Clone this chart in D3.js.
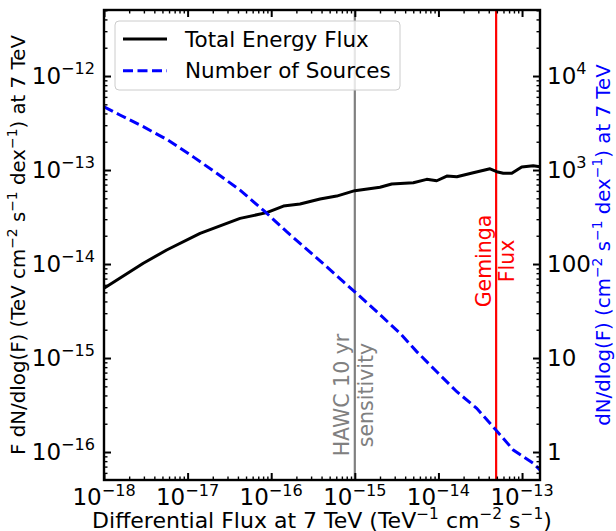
<!DOCTYPE html>
<html>
<head>
<meta charset="utf-8">
<title>Source flux distribution</title>
<script src="https://cdn.jsdelivr.net/npm/d3@7"></script>
<style>
  body { margin: 0; background: #fff; }
  text { font-family: "DejaVu Sans", sans-serif; }
</style>
</head>
<body>
<svg id="chart" width="616" height="531"></svg>
<script>
// total energy flux (left axis), F dN/dlog(F)
var energyX = [1.00e-18, 2.95e-18, 5.62e-18, 1.41e-17, 4.24e-17, 8.83e-17, 1.40e-16, 2.21e-16,
               3.84e-16, 6.07e-16, 1.00e-15, 2.00e-15, 2.76e-15, 5.01e-15, 7.24e-15, 9.55e-15,
               1.26e-14, 1.66e-14, 2.61e-14, 4.14e-14, 4.98e-14, 5.97e-14, 7.54e-14, 9.91e-14,
               1.36e-13, 1.64e-13];
var energyY = [5.51e-15, 1.02e-14, 1.41e-14, 2.12e-14, 3.06e-14, 3.52e-14, 4.14e-14, 4.35e-14,
               4.91e-14, 5.28e-14, 6.03e-14, 6.55e-14, 7.10e-14, 7.33e-14, 7.96e-14, 7.69e-14,
               8.63e-14, 8.49e-14, 9.35e-14, 1.03e-13, 9.59e-14, 9.23e-14, 9.23e-14, 1.08e-13,
               1.11e-13, 1.08e-13];

// number of sources (right axis), dN/dlog(F)
var sourcesX = [1.00e-18, 1.55e-18, 2.95e-18, 5.62e-18, 1.17e-17, 2.23e-17, 4.24e-17, 8.43e-17,
                1.53e-16, 3.84e-16, 7.28e-16, 1.00e-15, 1.83e-15, 3.48e-15, 5.50e-15, 9.55e-15,
                1.66e-14, 2.87e-14, 4.89e-14, 7.87e-14, 1.36e-13, 1.64e-13];
var sourcesN = [4710, 3850, 2890, 2120, 1380, 923, 612, 360, 221, 108, 64.9, 50.7, 31.1, 18.3,
                11.7, 7.14, 4.38, 2.92, 1.71, 1.05, 0.759, 0.644];

var hawcFlux = 1.0e-15;
var gemingaFlux = 4.9e-14;

var xTicks = [1e-18, 1e-17, 1e-16, 1e-15, 1e-14, 1e-13];
var xTickExp = ["\u221218", "\u221217", "\u221216", "\u221215", "\u221214", "\u221213"];
var leftTicks = [1e-16, 1e-15, 1e-14, 1e-13, 1e-12];
var leftTickExp = ["\u221216", "\u221215", "\u221214", "\u221213", "\u221212"];
var rightTicks = [1, 10, 100, 1e3, 1e4];
var rightTickLabels = [["1"], ["10"], ["100"], ["10", "3"], ["10", "4"]];

var margin = {top: 10, right: 76, bottom: 51, left: 104},
    width = 616 - margin.left - margin.right,
    height = 531 - margin.top - margin.bottom;

var tickFont = 23, xLabelFont = 22, yLabelFont = 19.8, legendFont = 21.5, noteFont = 20.5;

var x = d3.scaleLog().domain([1e-18, 1.64e-13]).range([0, width]);
var yl = d3.scaleLog().domain([5.04e-17, 5.04e-12]).range([height, 0]);
var yr = d3.scaleLog().domain([0.504, 5.04e4]).range([height, 0]);

var svg = d3.select("#chart").append("g")
    .attr("transform", "translate(" + margin.left + "," + margin.top + ")");

svg.append("clipPath").attr("id", "clip")
  .append("rect").attr("width", width).attr("height", height);

// writes base + superscript parts into a text element
function richText(sel, parts, size) {
  var up = false;
  parts.forEach(function(p) {
    var t = sel.append("tspan").text(p[0]);
    if (p[1]) {
      t.attr("dy", -0.4 * size).attr("font-size", 0.7 * size);
      up = true;
    } else if (up) {
      t.attr("dy", 0.4 * size);
      up = false;
    }
  });
}

function minors(scale) {
  var d = scale.domain(), out = [];
  var lo = Math.floor(Math.log10(d[0])), hi = Math.ceil(Math.log10(d[1]));
  for (var e = lo; e <= hi; e++)
    for (var m = 2; m < 10; m++) {
      var v = m * Math.pow(10, e);
      if (v >= d[0] && v <= d[1]) out.push(v);
    }
  return out;
}

var plot = svg.append("g").attr("clip-path", "url(#clip)");

// reference lines
plot.append("line")
    .attr("x1", x(hawcFlux)).attr("x2", x(hawcFlux))
    .attr("y1", 0).attr("y2", height)
    .attr("stroke", "#808080").attr("stroke-width", 2.2);
plot.append("line")
    .attr("x1", x(gemingaFlux)).attr("x2", x(gemingaFlux))
    .attr("y1", 0).attr("y2", height)
    .attr("stroke", "#ff0000").attr("stroke-width", 2.2);

var energyLine = d3.line()
    .x(function(d, i) { return x(energyX[i]); })
    .y(function(d) { return yl(d); });
var sourcesLine = d3.line()
    .x(function(d, i) { return x(sourcesX[i]); })
    .y(function(d) { return yr(d); });

plot.append("path").datum(energyY)
    .attr("d", energyLine)
    .attr("fill", "none").attr("stroke", "#000").attr("stroke-width", 3)
    .attr("stroke-linejoin", "round");
plot.append("path").datum(sourcesN)
    .attr("d", sourcesLine)
    .attr("fill", "none").attr("stroke", "#0000ff").attr("stroke-width", 3)
    .attr("stroke-dasharray", "10,4.5");

// annotations
var hawcText = svg.append("text")
    .attr("transform", "translate(" + x(hawcFlux) + ",385) rotate(-90)")
    .attr("text-anchor", "middle").attr("fill", "#808080")
    .attr("font-size", noteFont);
hawcText.append("tspan").attr("x", 0).attr("y", -5.5).text("HAWC 10 yr");
hawcText.append("tspan").attr("x", 0).attr("y", 18).text("sensitivity");

var gemText = svg.append("text")
    .attr("transform", "translate(" + x(gemingaFlux) + ",251) rotate(-90)")
    .attr("text-anchor", "middle").attr("fill", "#ff0000")
    .attr("font-size", noteFont);
gemText.append("tspan").attr("x", 0).attr("y", -5.5).text("Geminga");
gemText.append("tspan").attr("x", 0).attr("y", 18).text("Flux");

// axes: ticks point inward on all four sides
function tickAxis(axis, scale, vals, size) {
  return axis(scale).tickValues(vals).tickSizeInner(-size).tickSizeOuter(0).tickFormat("");
}
var axes = [
  [d3.axisBottom, x, "translate(0," + height + ")"],
  [d3.axisTop, x, "translate(0,0)"],
  [d3.axisLeft, yl, "translate(0,0)"],
  [d3.axisRight, yr, "translate(" + width + ",0)"]
];
var majors = [xTicks, xTicks, leftTicks, rightTicks];
axes.forEach(function(a, i) {
  [[majors[i], 7, 2], [minors(a[1]), 3.5, 1.4]].forEach(function(t) {
    svg.append("g").attr("transform", a[2])
      .call(tickAxis(a[0], a[1], t[0], t[1]))
      .call(function(g) {
        g.select(".domain").remove();
        g.selectAll(".tick line").attr("stroke", "#000").attr("stroke-width", t[2]);
      });
  });
});

svg.append("rect")
    .attr("width", width).attr("height", height)
    .attr("fill", "none").attr("stroke", "#000").attr("stroke-width", 2.4);

// tick labels
xTicks.forEach(function(v, i) {
  var t = svg.append("text").attr("x", x(v)).attr("y", height + 25)
      .attr("text-anchor", "middle").attr("font-size", tickFont);
  richText(t, [["10"], [xTickExp[i], true]], tickFont);
});
leftTicks.forEach(function(v, i) {
  var t = svg.append("text").attr("x", -9).attr("y", yl(v) + 7.5)
      .attr("text-anchor", "end").attr("font-size", tickFont);
  richText(t, [["10"], [leftTickExp[i], true]], tickFont);
});
rightTicks.forEach(function(v, i) {
  var l = rightTickLabels[i];
  var t = svg.append("text").attr("x", width + 7).attr("y", yr(v) + 7.5)
      .attr("font-size", tickFont);
  richText(t, l.length > 1 ? [[l[0]], [l[1], true]] : [[l[0]]], tickFont);
});

// axis labels
var xl = svg.append("text")
    .attr("x", width / 2).attr("y", height + 48)
    .attr("text-anchor", "middle").attr("font-size", xLabelFont);
richText(xl, [["Differential Flux at 7 TeV (TeV"], ["\u22121", true], [" cm"], ["\u22122", true],
              [" s"], ["\u22121", true], [")"]], xLabelFont);

var ylab = svg.append("text")
    .attr("transform", "translate(" + (25 - margin.left) + "," + (height / 2) + ") rotate(-90)")
    .attr("text-anchor", "middle").attr("font-size", yLabelFont);
richText(ylab, [["F dN/dlog(F) (TeV cm"], ["\u22122", true], [" s"], ["\u22121", true],
                [" dex"], ["\u22121", true], [") at 7 TeV"]], yLabelFont);

var yrlab = svg.append("text")
    .attr("transform", "translate(" + (610 - margin.left) + "," + (height / 2) + ") rotate(-90)")
    .attr("text-anchor", "middle").attr("font-size", yLabelFont).attr("fill", "#0000ff");
richText(yrlab, [["dN/dlog(F) (cm"], ["\u22122", true], [" s"], ["\u22121", true],
                 [" dex"], ["\u22121", true], [") at 7 TeV"]], yLabelFont);

// legend
var legend = svg.append("g").attr("transform", "translate(11,11)");
legend.append("rect")
    .attr("width", 285).attr("height", 69).attr("rx", 4)
    .attr("fill", "#fff").attr("fill-opacity", 0.8)
    .attr("stroke", "#cccccc").attr("stroke-width", 1);
var entries = [
  {name: "Total Energy Flux", color: "#000", dash: null},
  {name: "Number of Sources", color: "#0000ff", dash: "10,4.5"}
];
entries.forEach(function(e, i) {
  var cy = 18 + i * 31.7;
  legend.append("line")
      .attr("x1", 8).attr("x2", 52).attr("y1", cy).attr("y2", cy)
      .attr("stroke", e.color).attr("stroke-width", 3)
      .attr("stroke-dasharray", e.dash);
  legend.append("text")
      .attr("x", 70).attr("y", cy + 7.5)
      .attr("font-size", legendFont).text(e.name);
});
</script>
</body>
</html>
